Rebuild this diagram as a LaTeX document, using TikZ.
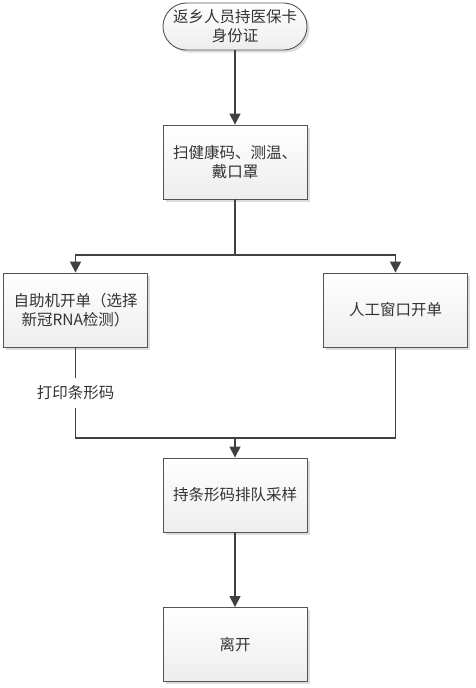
\documentclass[tikz,border=0pt]{standalone}
\usepackage{fontspec}
\setmainfont{Noto Sans CJK SC}
\usetikzlibrary{arrows.meta,shadows,positioning}
\definecolor{lineC}{HTML}{404040}
\definecolor{borderC}{HTML}{555555}
\begin{document}
\begin{tikzpicture}[x=1pt,y=-1pt,
  font=\fontsize{15.5}{19}\selectfont,
  box/.style={draw=borderC,line width=0.9pt,top color=white,bottom color=gray!14,
    minimum width=144pt,minimum height=74pt,align=center,inner sep=1pt,
    drop shadow={shadow xshift=2.5pt,shadow yshift=-2.5pt,fill=gray!45,opacity=0.6},text=black!80},
  term/.style={box,minimum height=47pt,rounded corners=23.5pt},
  line/.style={draw=lineC,line width=1.6pt},
  arr/.style={line,-{Triangle[length=11pt,width=11pt]}},
  lbl/.style={fill=white,inner sep=1pt,minimum height=30pt,text=black!80}]
\useasboundingbox (0,0) rectangle (475,688);
\node[term] (start) at (235,26.5) {返乡人员持医保卡\\身份证};
\node[box] (scan) at (235,162) {扫健康码、测温、\\戴口罩};
\node[box] (self) at (75.5,310) {自助机开单（选择\\新冠RNA检测）};
\node[box] (manual) at (395.5,310) {人工窗口开单};
\node[box] (queue) at (235,495) {持条形码排队采样};
\node[box] (leave) at (235,644.5) {离开};
\coordinate (split) at (235,255);
\coordinate (merge) at (235,438);
\draw[arr] (start) -- (scan);
\draw[line] (scan) -- (split);
\draw[arr] (split) -| (self);
\draw[arr] (split) -| (manual);
\draw[line] (self.south) -- node[lbl]{打印条形码} (self.south |- merge) -- (merge);
\draw[line] (manual.south) |- (merge);
\draw[arr] (merge) -- (queue);
\draw[arr] (queue) -- (leave);
\end{tikzpicture}
\end{document}
